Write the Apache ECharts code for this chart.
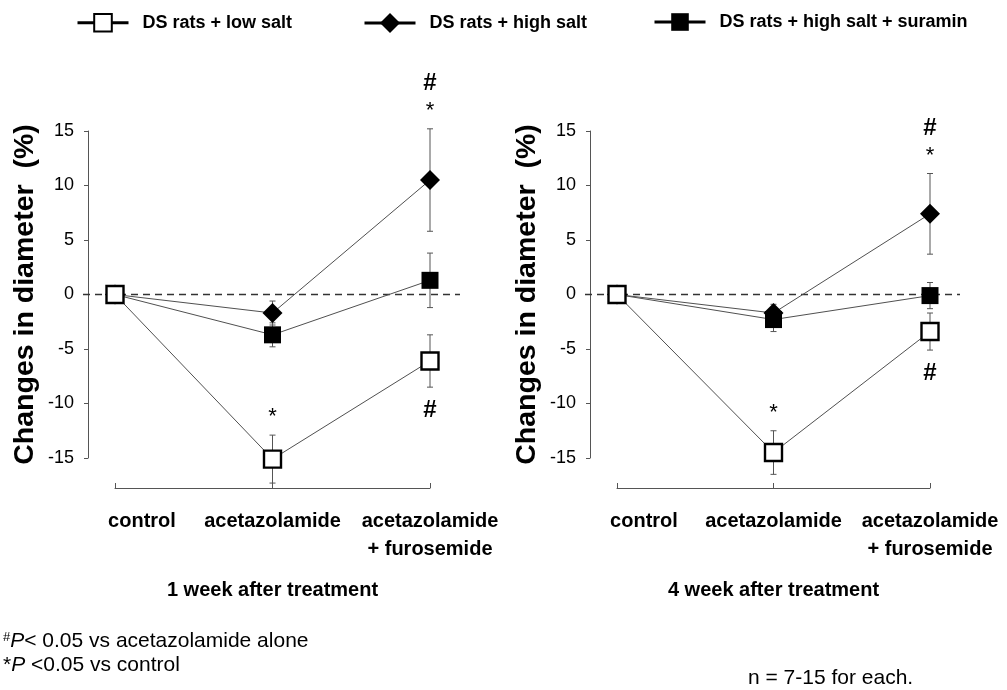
<!DOCTYPE html>
<html>
<head>
<meta charset="utf-8">
<script src="https://cdn.jsdelivr.net/npm/echarts@6/dist/echarts.min.js"></script>
<style>
  html, body { margin: 0; padding: 0; background: #fff; }
  #chart { width: 1007px; height: 690px; }
</style>
</head>
<body>
<div id="chart"></div>
<script>
// ---- data ----
const categories = ['control', 'acetazolamide', 'acetazolamide\n+ furosemide'];
const seriesNames = ['DS rats + low salt', 'DS rats + high salt', 'DS rats + high salt + suramin'];
const panelTitles = ['1 week after treatment', '4 week after treatment'];
const yMin = -15, yMax = 15, yInterval = 5;

// 1 week after treatment: mean change in diameter (%) and SE
const week1LowSalt     = [0, -15.1, -6.1];
const week1LowSaltSE   = [0, 2.2, 2.4];
const week1HighSalt    = [0, -1.7, 10.5];
const week1HighSaltSE  = [0, 1.1, 4.7];
const week1Suramin     = [0, -3.7, 1.3];
const week1SuraminSE   = [0, 1.1, 2.5];

// 4 week after treatment
const week4LowSalt     = [0, -14.5, -3.4];
const week4LowSaltSE   = [0, 2.0, 1.7];
const week4HighSalt    = [0, -1.7, 7.4];
const week4HighSaltSE  = [0, 0.8, 3.7];
const week4Suramin     = [0, -2.3, -0.1];
const week4SuraminSE   = [0, 1.1, 1.2];

// significance marks (series: 0 low salt, 1 high salt, 2 suramin)
const week1Marks = [
  { series: 1, category: 2, side: 'above', symbols: ['*', '#'] },
  { series: 0, category: 1, side: 'above', symbols: ['*'] },
  { series: 0, category: 2, side: 'below', symbols: ['#'] }
];
const week4Marks = [
  { series: 1, category: 2, side: 'above', symbols: ['*', '#'] },
  { series: 0, category: 1, side: 'above', symbols: ['*'] },
  { series: 0, category: 2, side: 'below', symbols: ['#'] }
];

const footnoteHash = 'P< 0.05 vs acetazolamide alone';
const footnoteStar = ' <0.05 vs control';
const footnoteN = 'n = 7-15 for each.';

// ---- styles ----
const FONT = '"Liberation Sans", Arial, Helvetica, sans-serif';
const AXIS_COLOR = '#555';
const LINE_COLOR = '#505050';

const seriesStyles = [
  { symbol: 'rect', symbolSize: 17, itemStyle: { color: '#fff', borderColor: '#000', borderWidth: 2.4 } },
  { symbol: 'diamond', symbolSize: 20, itemStyle: { color: '#000', borderColor: '#000', borderWidth: 0 } },
  { symbol: 'rect', symbolSize: 17, itemStyle: { color: '#000', borderColor: '#000', borderWidth: 0 } }
];

const panels = [
  { means: [week1LowSalt, week1HighSalt, week1Suramin], ses: [week1LowSaltSE, week1HighSaltSE, week1SuraminSE], marks: week1Marks },
  { means: [week4LowSalt, week4HighSalt, week4Suramin], ses: [week4LowSaltSE, week4HighSaltSE, week4SuraminSE], marks: week4Marks }
];

const grids = [
  { left: 115, top: 131, width: 315, height: 327 },
  { left: 617, top: 131, width: 313, height: 327 }
];

function renderErrorBar(params, api) {
  const cat = api.value(0), mean = api.value(1), se = api.value(2);
  if (!se) return null;
  const top = api.coord([cat, mean + se]);
  const bot = api.coord([cat, mean - se]);
  const cap = 3;
  const style = { stroke: AXIS_COLOR, lineWidth: 1 };
  return {
    type: 'group',
    children: [
      { type: 'line', shape: { x1: top[0], y1: top[1], x2: bot[0], y2: bot[1] }, style },
      { type: 'line', shape: { x1: top[0] - cap, y1: top[1], x2: top[0] + cap, y2: top[1] }, style },
      { type: 'line', shape: { x1: bot[0] - cap, y1: bot[1], x2: bot[0] + cap, y2: bot[1] }, style }
    ]
  };
}

function renderZeroLine(params, api) {
  const cs = params.coordSys;
  const y = api.coord([0, api.value(1)])[1];
  return {
    type: 'line',
    shape: { x1: cs.x - 32, y1: y, x2: cs.x + cs.width + 30, y2: y },
    style: { stroke: '#333', lineWidth: 1.5, lineDash: [7, 5] }
  };
}

function makeMarkRenderer(marks) {
  return function (params, api) {
    const mark = marks[params.dataIndex];
    const base = api.coord([api.value(0), api.value(1)]);
    const dir = mark.side === 'above' ? -1 : 1;
    const children = mark.symbols.map(function (sym, i) {
      const y = base[1] + dir * (23 + 22 * i);
      const isStar = sym === '*';
      return {
        type: 'text',
        x: base[0],
        y: isStar ? y + 5 : y,
        style: {
          text: sym,
          fill: '#000',
          font: isStar ? ('22px ' + FONT) : ('bold 24px ' + FONT),
          textAlign: 'center',
          textVerticalAlign: 'middle'
        }
      };
    });
    return { type: 'group', children };
  };
}

const xAxes = [], yAxes = [], series = [];

panels.forEach(function (panel, p) {
  xAxes.push({
    type: 'category',
    gridIndex: p,
    data: categories.map(function (c, i) {
      // first label starts just left of its tick
      return i === 0 ? { value: c, textStyle: { align: 'center', padding: [0, 0, 0, 54] } } : c;
    }),
    boundaryGap: false,
    offset: 30,
    axisLine: { show: true, onZero: false, lineStyle: { color: AXIS_COLOR, width: 1 } },
    axisTick: { show: true, inside: true, length: 5, lineStyle: { color: AXIS_COLOR } },
    axisLabel: { color: '#000', fontSize: 20, fontWeight: 'bold', fontFamily: FONT, margin: 19, lineHeight: 28, interval: 0 },
    splitLine: { show: false },
    name: panelTitles[p],
    nameLocation: 'middle',
    nameGap: 92,
    nameTextStyle: { color: '#000', fontSize: 20, fontWeight: 'bold', fontFamily: FONT }
  });
  yAxes.push({
    type: 'value',
    gridIndex: p,
    min: yMin, max: yMax, interval: yInterval,
    offset: 27,
    axisLine: { show: true, lineStyle: { color: AXIS_COLOR, width: 1 } },
    axisTick: { show: true, inside: false, length: 4, lineStyle: { color: AXIS_COLOR } },
    axisLabel: { color: '#000', fontSize: 18, fontFamily: FONT, margin: 14 },
    splitLine: { show: false },
    name: 'Changes in diameter  (%)',
    nameLocation: 'middle',
    nameGap: 48,
    nameTextStyle: { color: '#000', fontSize: 28.5, fontWeight: 'bold', fontFamily: FONT }
  });

  // dashed zero reference line
  series.push({
    type: 'custom', xAxisIndex: p, yAxisIndex: p, z: 1, silent: true,
    renderItem: renderZeroLine,
    data: [[0, 0]]
  });

  // error bars
  [2, 1, 0].forEach(function (s) {
    series.push({
      type: 'custom', xAxisIndex: p, yAxisIndex: p, z: 1, silent: true,
      renderItem: renderErrorBar,
      encode: { x: 0, y: 1 },
      data: panel.means[s].map(function (m, i) { return [i, m, panel.ses[s][i]]; })
    });
  });

  // lines with markers (low salt drawn last, on top)
  [2, 1, 0].forEach(function (s) {
    series.push({
      name: seriesNames[s],
      type: 'line', xAxisIndex: p, yAxisIndex: p, z: 3,
      data: panel.means[s],
      symbol: seriesStyles[s].symbol,
      symbolSize: seriesStyles[s].symbolSize,
      showAllSymbol: true,
      lineStyle: { color: LINE_COLOR, width: 1 },
      itemStyle: seriesStyles[s].itemStyle,
      emphasis: { disabled: true },
      clip: false
    });
  });

  // significance marks, placed beyond the error bar ends
  series.push({
    type: 'custom', xAxisIndex: p, yAxisIndex: p, z: 4, silent: true,
    renderItem: makeMarkRenderer(panel.marks),
    encode: { x: 0, y: 1 },
    data: panel.marks.map(function (mk) {
      const m = panel.means[mk.series][mk.category];
      const se = panel.ses[mk.series][mk.category];
      return [mk.category, mk.side === 'above' ? m + se : m - se];
    })
  });
});

const legendBase = {
  top: 13,
  padding: 0,
  itemWidth: 51,
  itemHeight: 22,
  selectedMode: false,
  textStyle: { color: '#000', fontSize: 18, fontWeight: 'bold', fontFamily: FONT, padding: [0, 0, 0, 9] },
  lineStyle: { color: '#000', width: 3 }
};

const option = {
  animation: false,
  backgroundColor: '#fff',
  grid: grids,
  xAxis: xAxes,
  yAxis: yAxes,
  legend: [
    Object.assign({}, legendBase, { left: 76, data: [seriesNames[0]] }),
    // taller icon box so the diamond reads a little larger
    Object.assign({}, legendBase, { left: 363, top: 13, itemHeight: 25, data: [seriesNames[1]] }),
    Object.assign({}, legendBase, { left: 653, data: [seriesNames[2]] })
  ],
  series: series,
  graphic: [
    {
      type: 'text', left: 3, top: 631,
      style: {
        text: '{sup|#}{it|P}' + footnoteHash.slice(1),
        font: '21px ' + FONT, fill: '#000',
        rich: {
          sup: { fontSize: 13, fontFamily: FONT, fill: '#000', verticalAlign: 'top' },
          it: { fontSize: 21, fontStyle: 'italic', fontFamily: FONT, fill: '#000' }
        }
      }
    },
    {
      type: 'text', left: 3, top: 655,
      style: {
        text: '*{it|P}' + footnoteStar,
        font: '21px ' + FONT, fill: '#000',
        rich: {
          it: { fontSize: 21, fontStyle: 'italic', fontFamily: FONT, fill: '#000' }
        }
      }
    },
    {
      type: 'text', left: 748, top: 668,
      style: { text: footnoteN, font: '21px ' + FONT, fill: '#000' }
    }
  ]
};

const chart = echarts.init(document.getElementById('chart'), null, { renderer: 'canvas' });
chart.setOption(option);
</script>
</body>
</html>
